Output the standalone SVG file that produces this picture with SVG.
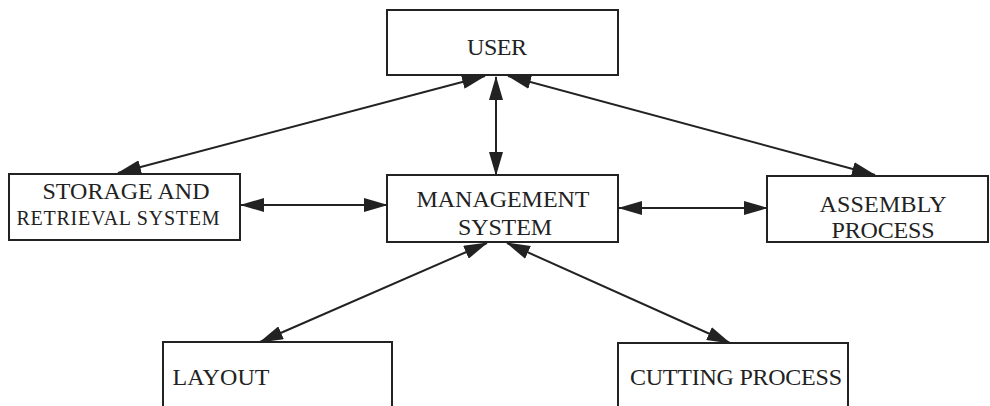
<svg xmlns="http://www.w3.org/2000/svg" width="990" height="406" viewBox="0 0 990 406">
<style>
.box{fill:#fff;stroke:#222;stroke-width:2}
.t{font-family:"Liberation Serif","Times New Roman",serif;font-size:24px;fill:#222;text-anchor:middle}
.s{font-size:20px}
.c{stroke:#222;stroke-width:2;fill:none;marker-start:url(#ah);marker-end:url(#ah)}
</style>
<defs>
<marker id="ah" viewBox="0 0 24 14" refX="23" refY="7" markerWidth="24" markerHeight="14" markerUnits="userSpaceOnUse" orient="auto-start-reverse">
<path d="M0,0 L24,7 L0,14 z" fill="#222"/>
</marker>
</defs>
<rect width="990" height="406" fill="#fff"/>
<g id="connectors">
<line class="c" x1="485" y1="76" x2="118" y2="173"/>
<line class="c" x1="496" y1="77" x2="496" y2="175"/>
<line class="c" x1="508" y1="76" x2="875" y2="175"/>
<line class="c" x1="241" y1="205" x2="387" y2="205"/>
<line class="c" x1="619" y1="208" x2="767" y2="208"/>
<line class="c" x1="487" y1="243" x2="260" y2="342"/>
<line class="c" x1="507" y1="243" x2="730" y2="343"/>
</g>
<g id="user">
<rect class="box" x="387" y="10" width="231" height="65"/>
<text class="t" x="497" y="55" textLength="60">USER</text>
</g>
<g id="storage">
<rect class="box" x="9" y="174" width="231" height="66"/>
<text class="t" x="126" y="199" textLength="167">STORAGE AND</text>
<text class="t s" x="118" y="225" textLength="203">RETRIEVAL SYSTEM</text>
</g>
<g id="management">
<rect class="box" x="387" y="175" width="231" height="67"/>
<text class="t" x="503" y="207" textLength="173">MANAGEMENT</text>
<text class="t" x="505" y="235" textLength="94">SYSTEM</text>
</g>
<g id="assembly">
<rect class="box" x="767" y="176" width="221" height="66"/>
<text class="t" x="883" y="212" textLength="127">ASSEMBLY</text>
<text class="t" x="883" y="238" textLength="103">PROCESS</text>
</g>
<g id="layout">
<rect class="box" x="163" y="342" width="229" height="70"/>
<text class="t" x="221" y="385" textLength="97">LAYOUT</text>
</g>
<g id="cutting">
<rect class="box" x="618" y="343" width="230" height="70"/>
<text class="t" x="736" y="385" textLength="212">CUTTING PROCESS</text>
</g>
</svg>
